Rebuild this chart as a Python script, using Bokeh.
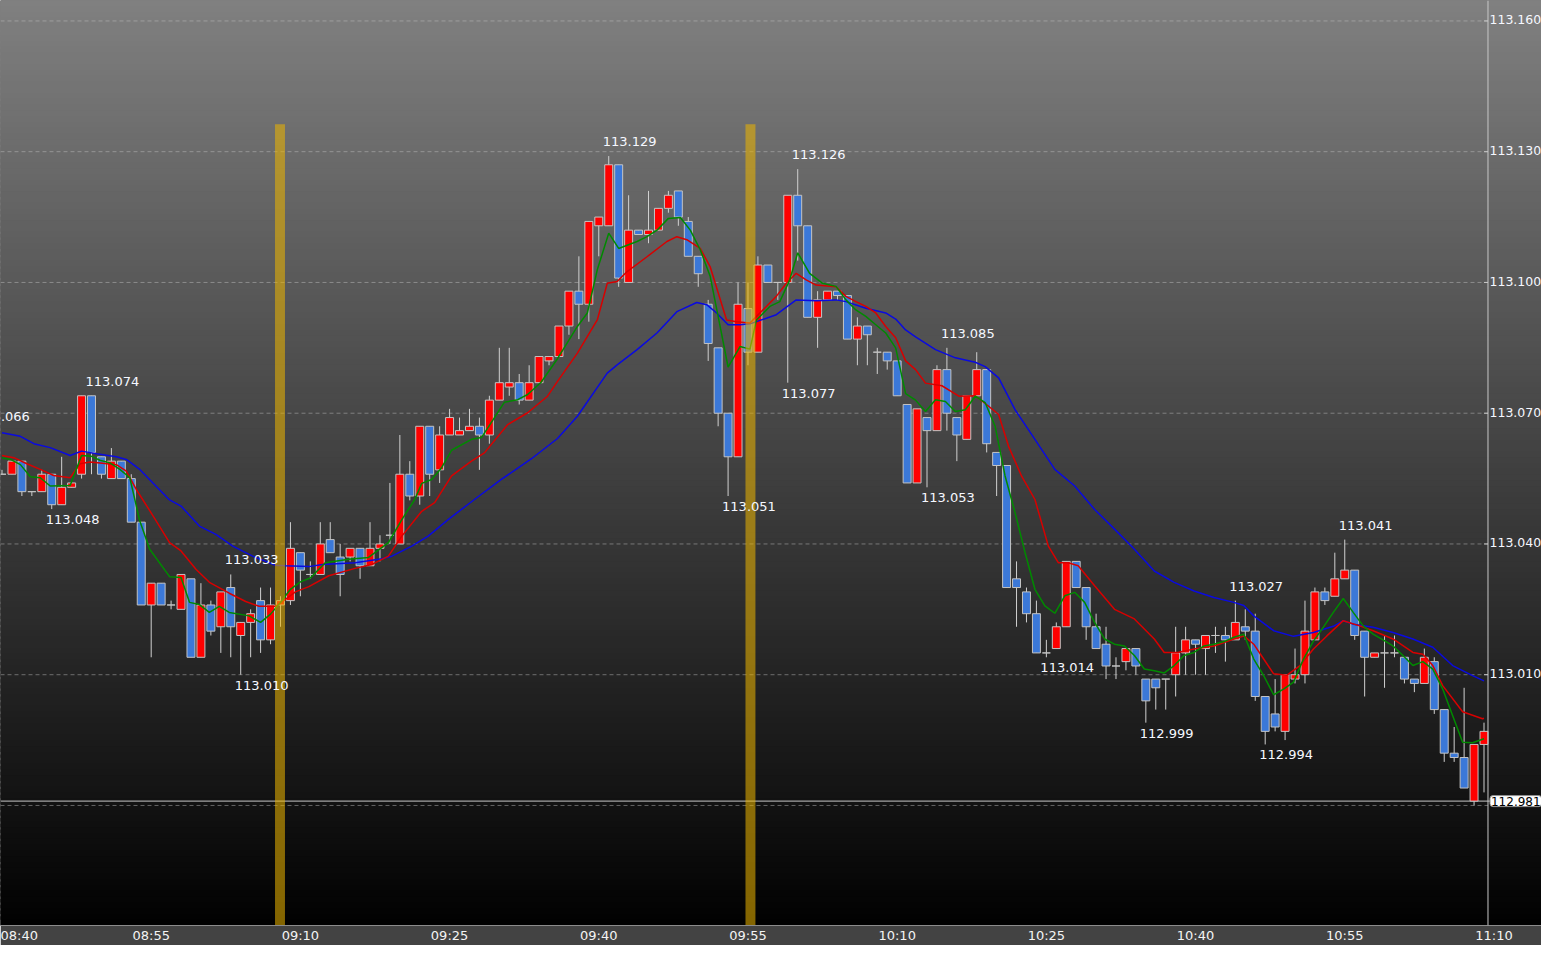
import numpy as np
from bokeh.plotting import figure
from bokeh.models import Range1d, FixedTicker, Span, Label
from bokeh.core.properties import value
from bokeh.embed import file_html
from bokeh.resources import INLINE

# ---------------- data (minute index 0 = 08:40) ----------------
open_ = [113.056, 113.056, 113.059, 113.052, 113.052, 113.056, 113.049, 113.053, 113.056, 113.074,
         113.060, 113.055, 113.059, 113.055, 113.045, 113.026, 113.031, 113.026, 113.025, 113.032,
         113.014, 113.026, 113.021, 113.030, 113.019, 113.022, 113.027, 113.018, 113.026, 113.027,
         113.038, 113.033, 113.033, 113.041, 113.037, 113.037, 113.039, 113.035, 113.039, 113.042,
         113.040, 113.056, 113.051, 113.067, 113.057, 113.065, 113.065, 113.066, 113.067, 113.065,
         113.073, 113.076, 113.077, 113.073, 113.077, 113.082, 113.083, 113.090, 113.098, 113.095,
         113.113, 113.113, 113.127, 113.100, 113.112, 113.111, 113.112, 113.117, 113.121, 113.114,
         113.106, 113.095, 113.085, 113.070, 113.060, 113.094, 113.084, 113.104, 113.100, 113.100,
         113.120, 113.113, 113.092, 113.096, 113.098, 113.097, 113.087, 113.090, 113.084, 113.084,
         113.082, 113.072, 113.054, 113.069, 113.066, 113.080, 113.069, 113.064, 113.074, 113.080,
         113.061, 113.058, 113.032, 113.029, 113.024, 113.015, 113.016, 113.021, 113.036, 113.030,
         113.021, 113.017, 113.012, 113.013, 113.016, 113.009, 113.009, 113.009, 113.010, 113.015,
         113.018, 113.016, 113.019, 113.019, 113.018, 113.021, 113.020, 113.005, 113.001, 112.997,
         113.009, 113.010, 113.018, 113.029, 113.028, 113.032, 113.034, 113.020, 113.014, 113.015,
         113.015, 113.014, 113.009, 113.008, 113.013, 113.002, 112.992, 112.991, 112.981, 112.994]
high = [113.057, 113.059, 113.059, 113.052, 113.057, 113.056, 113.060, 113.054, 113.074, 113.074,
        113.060, 113.062, 113.059, 113.056, 113.045, 113.031, 113.031, 113.027, 113.033, 113.032,
        113.031, 113.027, 113.029, 113.033, 113.022, 113.025, 113.030, 113.030, 113.028, 113.045,
        113.038, 113.036, 113.045, 113.045, 113.040, 113.039, 113.039, 113.045, 113.042, 113.054,
        113.065, 113.059, 113.067, 113.067, 113.067, 113.071, 113.069, 113.071, 113.069, 113.074,
        113.085, 113.085, 113.079, 113.081, 113.083, 113.083, 113.090, 113.098, 113.106, 113.114,
        113.115, 113.129, 113.127, 113.120, 113.112, 113.121, 113.117, 113.121, 113.121, 113.115,
        113.106, 113.096, 113.085, 113.070, 113.100, 113.100, 113.106, 113.104, 113.100, 113.120,
        113.126, 113.113, 113.098, 113.098, 113.098, 113.097, 113.092, 113.090, 113.085, 113.084,
        113.082, 113.072, 113.071, 113.069, 113.081, 113.085, 113.069, 113.074, 113.084, 113.080,
        113.061, 113.058, 113.036, 113.030, 113.027, 113.018, 113.022, 113.036, 113.036, 113.030,
        113.024, 113.021, 113.014, 113.016, 113.016, 113.009, 113.009, 113.009, 113.021, 113.021,
        113.018, 113.019, 113.021, 113.021, 113.027, 113.025, 113.024, 113.005, 113.009, 113.010,
        113.016, 113.027, 113.030, 113.030, 113.038, 113.041, 113.034, 113.020, 113.015, 113.019,
        113.019, 113.014, 113.009, 113.016, 113.014, 113.002, 112.998, 113.007, 112.994, 112.999]
low = [113.056, 113.056, 113.051, 113.051, 113.052, 113.048, 113.049, 113.053, 113.055, 113.056,
       113.055, 113.055, 113.055, 113.045, 113.026, 113.014, 113.026, 113.025, 113.025, 113.014,
       113.014, 113.019, 113.015, 113.014, 113.010, 113.014, 113.015, 113.017, 113.021, 113.026,
       113.028, 113.032, 113.033, 113.038, 113.028, 113.036, 113.032, 113.035, 113.036, 113.040,
       113.040, 113.050, 113.049, 113.051, 113.054, 113.065, 113.065, 113.066, 113.057, 113.063,
       113.073, 113.074, 113.072, 113.073, 113.077, 113.081, 113.083, 113.088, 113.087, 113.091,
       113.106, 113.113, 113.099, 113.100, 113.111, 113.109, 113.112, 113.116, 113.113, 113.106,
       113.099, 113.082, 113.067, 113.051, 113.060, 113.081, 113.084, 113.100, 113.096, 113.077,
       113.105, 113.092, 113.085, 113.096, 113.096, 113.087, 113.081, 113.081, 113.079, 113.080,
       113.074, 113.054, 113.054, 113.053, 113.066, 113.066, 113.059, 113.064, 113.074, 113.061,
       113.051, 113.030, 113.021, 113.022, 113.015, 113.014, 113.016, 113.021, 113.030, 113.018,
       113.016, 113.009, 113.009, 113.011, 113.010, 112.999, 113.002, 113.002, 113.005, 113.010,
       113.010, 113.010, 113.015, 113.013, 113.018, 113.018, 113.004, 112.994, 112.997, 112.995,
       113.008, 113.008, 113.018, 113.026, 113.028, 113.032, 113.018, 113.005, 113.014, 113.007,
       113.014, 113.008, 113.006, 113.008, 113.001, 112.990, 112.990, 112.984, 112.980, 112.983]
close = [113.056, 113.059, 113.052, 113.052, 113.056, 113.049, 113.053, 113.054, 113.074, 113.061,
         113.056, 113.059, 113.055, 113.045, 113.026, 113.031, 113.026, 113.026, 113.033, 113.014,
         113.026, 113.020, 113.029, 113.021, 113.022, 113.024, 113.018, 113.026, 113.027, 113.039,
         113.034, 113.033, 113.040, 113.038, 113.033, 113.039, 113.035, 113.039, 113.040, 113.042,
         113.056, 113.051, 113.067, 113.056, 113.065, 113.069, 113.066, 113.067, 113.065, 113.073,
         113.077, 113.077, 113.073, 113.077, 113.083, 113.083, 113.090, 113.098, 113.095, 113.114,
         113.115, 113.127, 113.101, 113.112, 113.111, 113.112, 113.117, 113.120, 113.115, 113.106,
         113.102, 113.086, 113.070, 113.060, 113.095, 113.084, 113.104, 113.100, 113.100, 113.120,
         113.113, 113.092, 113.096, 113.098, 113.097, 113.087, 113.090, 113.088, 113.084, 113.082,
         113.074, 113.054, 113.071, 113.066, 113.080, 113.070, 113.065, 113.074, 113.080, 113.063,
         113.058, 113.030, 113.030, 113.024, 113.015, 113.015, 113.021, 113.036, 113.030, 113.021,
         113.016, 113.012, 113.012, 113.016, 113.012, 113.004, 113.007, 113.009, 113.015, 113.018,
         113.017, 113.019, 113.019, 113.018, 113.022, 113.020, 113.005, 112.997, 112.998, 113.010,
         113.010, 113.020, 113.029, 113.027, 113.032, 113.034, 113.019, 113.014, 113.015, 113.015,
         113.015, 113.009, 113.008, 113.014, 113.002, 112.992, 112.991, 112.984, 112.994, 112.997]

# moving averages (minute position, price)
ma_fast_t = [0, 0.85, 1.85, 2.85, 3.85, 4.85, 6.85, 8, 9, 9.85, 10.85, 11.85, 12.85, 13.85, 14.85,
             16.85, 18, 18.85, 19.85, 20.85, 21.85, 22.85, 24.85, 26, 27, 28, 29, 30, 31, 32.5,
             34.85, 36.85, 38.85, 40.2, 41.5, 42.2, 43.2, 44.2, 45.2, 47.2, 48.2, 49.35, 50.5,
             51.85, 52.85, 54.2, 55.85, 57.85, 58.85, 59.85, 61, 62, 63.85, 64.85, 65.85, 67,
             68.2, 69.2, 70.2, 71.2, 72.2, 73, 74.2, 75.2, 75.85, 77.2, 78.2, 79.2, 80, 81.2,
             82.5, 83.85, 84.85, 85.85, 86.85, 87.85, 88.85, 89.85, 90.85, 91.85, 92.85, 93.85,
             94.85, 95.85, 96.85, 97.85, 98.85, 99.85, 100.85, 101.85, 102.85, 103.85, 104.85,
             105.85, 106.85, 107.85, 108.85, 109.85, 110.85, 111.85, 112.85, 113.85, 114.85,
             115.85, 116.85, 117.85, 118.85, 119.85, 120.85, 121.85, 122.85, 123.85, 124.85,
             125.85, 126.85, 127.85, 128.85, 129.85, 130.85, 131.85, 132.85, 133.85, 134.85,
             135.85, 136.85, 137.85, 138.85, 139.85, 140.85, 141.85, 142.85, 143.85, 144.85,
             145.85, 146.85, 147.85, 149]
ma_fast_v = [113.0598, 113.0594, 113.0582, 113.0554, 113.0552, 113.0533, 113.0534, 113.0603, 113.0601,
             113.0592, 113.0586, 113.0571, 113.0552, 113.0453, 113.0388, 113.0325, 113.0323, 113.0266,
             113.0261, 113.0243, 113.0257, 113.0243, 113.0235, 113.0220, 113.0239, 113.0266, 113.0296,
             113.0313, 113.0322, 113.0357, 113.0365, 113.0369, 113.0403, 113.0456, 113.0502, 113.0539,
             113.0548, 113.0575, 113.0615, 113.0640, 113.0644, 113.0684, 113.0725, 113.0731, 113.0743,
             113.0771, 113.0825, 113.0899, 113.0930, 113.1029, 113.1113, 113.1078, 113.1094, 113.1105,
             113.1120, 113.1147, 113.1149, 113.1120, 113.1075, 113.1014, 113.0899, 113.0806, 113.0853,
             113.0847, 113.0914, 113.0945, 113.0956, 113.1006, 113.1068, 113.1021, 113.0998, 113.0991,
             113.0960, 113.0937, 113.0922, 113.0903, 113.0884, 113.0850, 113.0745, 113.0730, 113.0704,
             113.0731, 113.0727, 113.0704, 113.0708, 113.0739, 113.0724, 113.0670, 113.0556, 113.0472,
             113.0381, 113.0296, 113.0258, 113.0241, 113.0281, 113.0289, 113.0266, 113.0220, 113.0182,
             113.0170, 113.0166, 113.0144, 113.0113, 113.0109, 113.0104, 113.0121, 113.0144, 113.0151,
             113.0166, 113.0170, 113.0176, 113.0186, 113.0193, 113.0136, 113.0098, 113.0054, 113.0067,
             113.0083, 113.0136, 113.0177, 113.0209, 113.0243, 113.0275, 113.0243, 113.0212, 113.0193,
             113.0180, 113.0166, 113.0144, 113.0121, 113.0130, 113.0113, 113.0067, 113.0006, 112.9945,
             112.9944, 112.9953]
ma_mid_t = [0, 1.2, 2.5, 3.85, 5.2, 6.85, 7.85, 8.85, 9.85, 11.5, 12.5, 13.5, 15.2, 16.85, 18, 19.5,
            20.85, 22.85, 24.5, 25.85, 27.5, 28.5, 29.5, 30.85, 32.85, 35.5, 37.2, 38.85, 40.2, 42.2,
            43.5, 45.2, 47.2, 48.5, 50.85, 52.85, 53.85, 54.85, 55.85, 57.85, 59.85, 60.85, 61.85,
            62.85, 64.85, 66.85, 67.85, 68.85, 70.2, 71.2, 72.85, 73.85, 75.2, 76.85, 77.85, 78.85,
            79.85, 80.85, 81.85, 83.85, 84.85, 85.85, 86.85, 87.85, 88.85, 89.85, 90.85, 91.85, 92.85,
            94.5, 96.2, 97.85, 99.2, 100.2, 101.2, 102.5, 103.85, 105.2, 106.2, 107.2, 108.2, 109.85,
            111.85, 113.85, 115.85, 116.85, 118.2, 119.85, 121.85, 123.85, 124.85, 125.85, 126.85,
            127.85, 129.2, 130.5, 131.85, 133.2, 134.85, 136.5, 137.85, 139.85, 141.85, 142.85,
            143.85, 144.85, 146.85, 148.85, 149]
ma_mid_v = [113.0603, 113.0598, 113.0584, 113.0571, 113.0557, 113.0552, 113.0584, 113.0588, 113.0586,
            113.0582, 113.0567, 113.0525, 113.0464, 113.0403, 113.0384, 113.0342, 113.0312, 113.0287,
            113.0268, 113.0257, 113.0257, 113.0273, 113.0290, 113.0302, 113.0327, 113.0344, 113.0353,
            113.0372, 113.0418, 113.0475, 113.0495, 113.0556, 113.0590, 113.0609, 113.0674, 113.0701,
            113.0720, 113.0739, 113.0773, 113.0838, 113.0914, 113.0998, 113.1002, 113.1025, 113.1059,
            113.1094, 113.1105, 113.1098, 113.1078, 113.1036, 113.0914, 113.0910, 113.0907, 113.0945,
            113.0968, 113.0998, 113.1021, 113.1006, 113.0994, 113.0990, 113.0968, 113.0956, 113.0945,
            113.0930, 113.0899, 113.0873, 113.0820, 113.0800, 113.0769, 113.0763, 113.0739, 113.0740,
            113.0716, 113.0697, 113.0624, 113.0556, 113.0502, 113.0395, 113.0357, 113.0357, 113.0350,
            113.0304, 113.0250, 113.0228, 113.0182, 113.0151, 113.0151, 113.0159, 113.0166, 113.0182,
            113.0189, 113.0170, 113.0136, 113.0102, 113.0099, 113.0121, 113.0159, 113.0189, 113.0224,
            113.0212, 113.0201, 113.0182, 113.0151, 113.0147, 113.0121, 113.0075, 113.0015, 112.9999,
            113.0000]
ma_slow_t = [0, 1.85, 3.2, 4.85, 6.85, 8, 9.5, 11.5, 12.5, 13.85, 16.85, 18, 19.85, 21.5, 23.2, 25.2,
             27.5, 28.5, 30.85, 32.2, 35.5, 38.2, 39.2, 41.2, 42.85, 44.85, 47.5, 50.2, 53.2, 55.85,
             57.85, 60.85, 61.85, 63.85, 65.85, 67.85, 69.85, 70.85, 71.85, 73, 74.2, 75.2, 76.85,
             77.85, 79.85, 81.85, 83.85, 84.85, 86.85, 88.85, 89.85, 90.85, 91.85, 93.85, 95.85, 97.85,
             98.85, 100.2, 101.85, 103.85, 105.85, 107.85, 109.85, 111.85, 113.85, 115.85, 117.85,
             119.85, 121.85, 123.85, 124.85, 125.85, 127.85, 129.85, 131.85, 133.85, 134.85, 135.85,
             137.85, 139.85, 141.85, 143.85, 145.85, 147.85, 149]
ma_slow_v = [113.0655, 113.0647, 113.0630, 113.0621, 113.0603, 113.0613, 113.0607, 113.0600, 113.0594,
             113.0571, 113.0501, 113.0487, 113.0441, 113.0422, 113.0395, 113.0372, 113.0351, 113.0350,
             113.0348, 113.0353, 113.0357, 113.0366, 113.0372, 113.0395, 113.0418, 113.0456, 113.0502,
             113.0548, 113.0595, 113.0642, 113.0693, 113.0792, 113.0811, 113.0846, 113.0884, 113.0933,
             113.0954, 113.0949, 113.0930, 113.0903, 113.0903, 113.0905, 113.0918, 113.0926, 113.0960,
             113.0958, 113.0960, 113.0956, 113.0941, 113.0930, 113.0916, 113.0891, 113.0875, 113.0846,
             113.0827, 113.0817, 113.0807, 113.0781, 113.0708, 113.0640, 113.0571, 113.0533, 113.0479,
             113.0434, 113.0388, 113.0338, 113.0312, 113.0292, 113.0277, 113.0266, 113.0259, 113.0235,
             113.0201, 113.0188, 113.0197, 113.0211, 113.0224, 113.0216, 113.0209, 113.0197, 113.0182,
             113.0163, 113.0121, 113.0098, 113.0086]

# labelled highs / lows
hi_t = [-2, 9, 23, 61, 80, 95, 124, 135]
hi_v = [113.066, 113.074, 113.033, 113.129, 113.126, 113.085, 113.027, 113.041]
lo_t = [5, 24, 73, 79, 93, 105, 115, 127]
lo_v = [113.048, 113.010, 113.051, 113.077, 113.053, 113.014, 112.999, 112.994]

# event markers (minute position)
event_t = [27.95, 75.25]
event_top = 113.1363

last_price = 112.981

price_ticks = [113.160, 113.130, 113.100, 113.070, 113.040, 113.010]
price_tick_labels = ["113.160", "113.130", "113.100", "113.070", "113.040", "113.010"]
grid_levels = [113.160, 113.130, 113.100, 113.070, 113.040, 113.010, 112.980]

time_ticks = [0, 15, 30, 45, 60, 75, 90, 105, 120, 135, 150]
time_labels = ["08:40", "08:55", "09:10", "09:25", "09:40", "09:55", "10:10", "10:25", "10:40",
               "10:55", "11:10"]

# ---------------- layout ----------------
X_LO, X_HI = -0.15, 154.78
Y_LO, Y_HI = 112.95246, 113.16469
AXIS_X = 149.4
FONT = value("DejaVu Sans")

p = figure(width=1541, height=945, x_range=Range1d(X_LO, X_HI), y_range=Range1d(Y_LO, Y_HI),
           output_backend="svg", toolbar_location=None, y_axis_location=None,
           min_border_left=0, min_border_right=0, min_border_top=0, min_border_bottom=18)
p.xgrid.visible = False
p.ygrid.visible = False
p.outline_line_color = None
p.background_fill_color = "#000000"
p.border_fill_color = "#434343"

ax = p.xaxis[0]
ax.ticker = FixedTicker(ticks=time_ticks)
ax.major_label_overrides = {k: v for k, v in zip(time_ticks, time_labels)}
ax.major_label_text_font = "DejaVu Sans"
ax.major_label_text_font_size = "13px"
ax.major_label_text_color = "#f4f4f4"
ax.major_tick_line_color = None
ax.minor_tick_line_color = None
ax.major_tick_out = 0
ax.major_tick_in = 0
ax.minor_tick_out = 0
ax.minor_tick_in = 0
ax.axis_label_standoff = 0
ax.major_label_standoff = 2
ax.axis_line_color = "#8c8c8c"

# background gradient (style)
n = 160
y_black = Y_HI - 935 / 4368.0
edges = np.linspace(Y_LO, Y_HI, n + 1)
cent = 0.5 * (edges[:-1] + edges[1:])
g = np.clip(np.round(128 * (cent - y_black) / (Y_HI - y_black)), 0, 255).astype(int)
cols = ["#%02x%02x%02x" % (v, v, v) for v in g]
bg = p.quad(left=X_LO - 1, right=X_HI + 1, bottom=edges[:-1], top=edges[1:] + (edges[1] - edges[0]) * 0.6,
            fill_color=cols, line_color=None)
bg.level = "image"

# grid
p.segment(x0=[X_LO] * len(grid_levels), x1=[AXIS_X] * len(grid_levels), y0=grid_levels, y1=grid_levels,
          line_color="#c8c8c8", line_alpha=0.45, line_dash="4 3", line_width=1)

# last price line
p.segment(x0=[X_LO], x1=[AXIS_X + 0.2], y0=[last_price], y1=[last_price], line_color="#c8c8c8", line_width=1)

# candles
t = np.arange(len(open_))
o = np.array(open_); c = np.array(close)
up = c >= o
body_top = np.maximum(o, c)
body_bot = np.minimum(o, c)
body_col = np.where(up, "#ff0000", "#3b78d8")
p.segment(x0=t, x1=t, y0=low, y1=high, line_color="#d0d0d0", line_width=1)
p.vbar(x=t, width=0.8, top=body_top, bottom=body_bot, fill_color=list(body_col),
       line_color="#c4c4c4", line_width=1)

# moving averages
p.line(ma_slow_t, ma_slow_v, line_color="#0a0ae0", line_width=1.5)
p.line(ma_mid_t, ma_mid_v, line_color="#d80000", line_width=1.5)
p.line(ma_fast_t, ma_fast_v, line_color="#008a00", line_width=1.5)

# event bars
ev = np.array(event_t)
p.quad(left=ev - 0.5, right=ev + 0.5, bottom=[Y_LO] * len(ev), top=[event_top] * len(ev),
       fill_color="#ebb400", fill_alpha=0.56, line_color=None)

# high / low labels
p.text(x=hi_t, y=hi_v, text=["%.3f" % v for v in hi_v], x_offset=-6, y_offset=-14.5,
       text_font=FONT, text_font_size="13px", text_color="#f6f8ff", text_align="left", text_baseline="middle")
p.text(x=lo_t, y=lo_v, text=["%.3f" % v for v in lo_v], x_offset=-6, y_offset=10.5,
       text_font=FONT, text_font_size="13px", text_color="#f6f8ff", text_align="left", text_baseline="middle")

# right price scale
p.add_layout(Span(location=AXIS_X, dimension="height", line_color="#c8c8c8", line_width=1))
p.segment(x0=[AXIS_X - 0.4] * len(price_ticks), x1=[AXIS_X] * len(price_ticks), y0=price_ticks, y1=price_ticks,
          line_color="#c8c8c8", line_width=1)
p.text(x=[AXIS_X] * len(price_ticks), y=price_ticks, text=price_tick_labels, x_offset=1.5, y_offset=-1,
       text_font=FONT, text_font_size="12.5px", text_color="#f6f8ff", text_align="left", text_baseline="middle")

p.add_layout(Label(x=AXIS_X, y=last_price, text="%.3f" % last_price, x_offset=2, y_offset=0,
                   text_font="DejaVu Sans", text_font_size="12px", text_color="#000000",
                   text_align="left", text_baseline="middle",
                   background_fill_color="#ffffff", border_line_color="#909090",
                   padding=1, border_radius=3))

open("out.html", "w").write(file_html(p, INLINE))
